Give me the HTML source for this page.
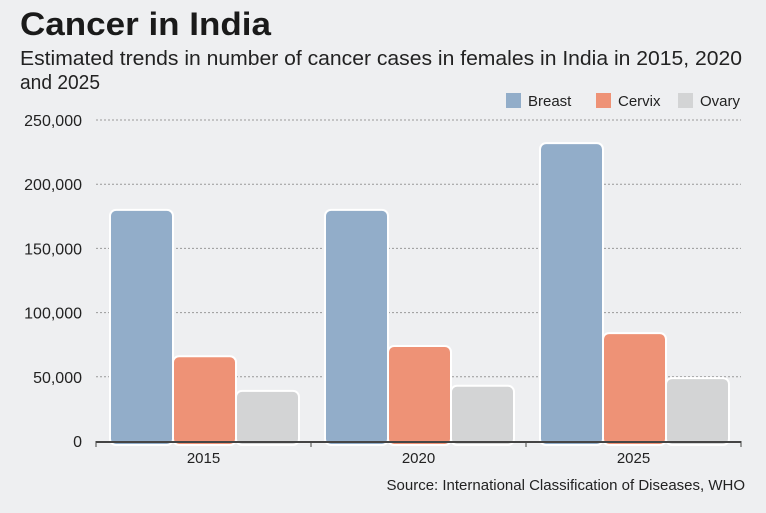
<!DOCTYPE html>
<html><head><meta charset="utf-8"><style>
body{margin:0;width:766px;height:508px;background:#eeeff1;font-family:"Liberation Sans",sans-serif;overflow:hidden}
</style></head><body>
<svg width="766" height="508">
<text x="20" y="35" font-size="32" font-weight="bold" fill="#1a1a1a" textLength="251" lengthAdjust="spacingAndGlyphs">Cancer in India</text>
<text x="20" y="65" font-size="20" fill="#222" textLength="722" lengthAdjust="spacingAndGlyphs">Estimated trends in number of cancer cases in females in India in 2015, 2020</text>
<text x="20" y="89" font-size="20" fill="#222" textLength="80" lengthAdjust="spacingAndGlyphs">and 2025</text>
<g id="legend"></g>
<g id="grid"></g>
<g id="bars"></g>
<g id="axis"></g>
<text x="745" y="490" font-size="15" text-anchor="end" fill="#222">Source: International Classification of Diseases, WHO</text>
</svg>
<script>
const categories=["2015","2020","2025"];
const seriesNames=["Breast","Cervix","Ovary"];
const breast=[180000,180000,232000];
const cervix=[66000,74000,84000];
const ovary=[39000,43000,49000];
const ticks=[0,50000,100000,150000,200000,250000];
const tickLabels=["0","50,000","100,000","150,000","200,000","250,000"];
const colors=["#92adc9","#ee9276","#d3d4d5"];
const NS="http://www.w3.org/2000/svg";
const x0=96,x1=741,y0=441,y1=120,ymax=250000;
const y=v=>y0-(v/ymax)*(y0-y1);
const gw=(x1-x0)/categories.length;
function mk(t,a,p){const e=document.createElementNS(NS,t);for(const k in a)e.setAttribute(k,a[k]);p.appendChild(e);return e;}
const grid=document.getElementById('grid');
ticks.forEach((t,i)=>{
  if(t>0){const l=mk('line',{x1:x0,x2:x1,y1:y(t),y2:y(t),stroke:'#999','stroke-dasharray':'2,2','stroke-width':1},grid);
  
  }
  const tx=mk('text',{x:82,y:y(t)+6,'font-size':16,'text-anchor':'end',fill:'#222'},grid);
  tx.textContent=tickLabels[i];
  
  
});
const bars=document.getElementById('bars');
const series=[breast,cervix,ovary];
categories.forEach((c,ci)=>{
  series.forEach((s,si)=>{
    const bx=x0+ci*gw+14+si*63;
    const r=mk('rect',{x:bx,y:y(s[ci]),width:63,height:y0-y(s[ci])+4,rx:6,fill:colors[si],stroke:'#fff','stroke-width':2},bars);
    
    
  });
});
const ax=document.getElementById('axis');
const al=mk('line',{x1:x0,x2:x1,y1:y0+1,y2:y0+1,stroke:'#444','stroke-width':2},ax);


for(let i=0;i<=categories.length;i++){mk('line',{x1:x0+i*gw,x2:x0+i*gw,y1:y0,y2:y0+6,stroke:'#444','stroke-width':1},ax);}
categories.forEach((c,ci)=>{
  const t=mk('text',{x:x0+ci*gw+gw/2,y:463,'font-size':15,'text-anchor':'middle',fill:'#222'},ax);
  t.textContent=c;
  
  
});
const lg=document.getElementById('legend');
const lx=[506,596,678];
seriesNames.forEach((n,i)=>{
  const r=mk('rect',{x:lx[i],y:93,width:15,height:15,fill:colors[i]},lg);
  
  
  const t=mk('text',{x:lx[i]+22,y:106,'font-size':15,fill:'#222'},lg);
  t.textContent=n;
  
  
});
</script>
</body></html>
